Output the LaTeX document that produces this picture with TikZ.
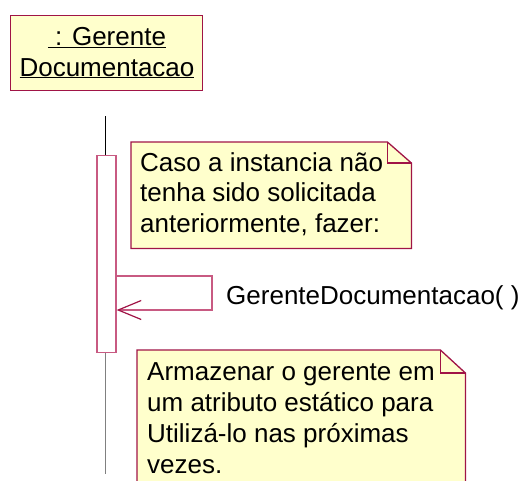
\documentclass[tikz,border=0pt]{standalone}
\usepackage{fontspec}
\setmainfont{Liberation Sans}
\usepackage{tikz}
\usetikzlibrary{arrows.meta, positioning}
\usepackage{color}
\definecolor{notefill}{RGB}{255,255,204}
\definecolor{umlred}{RGB}{160,20,70}
\definecolor{umlpink}{RGB}{200,90,130}

\tikzset{
	umltext/.style={font=\fontsize{26}{30.5}\selectfont, inner sep=0pt},
	objbox/.style={draw=umlred, fill=notefill, line width=1.3pt, inner sep=0pt, anchor=north west},
	noteframe/.style={fill=notefill, draw=umlred, line width=1.3pt},
	actbox/.style={draw=umlpink, fill=white, line width=1.3pt, minimum width=19pt, minimum height=197pt, inner sep=0pt, anchor=north},
	lifeline/.style={line width=1pt},
	selfmsg/.style={draw=umlpink, line width=1.2pt, -{Straight Barb[length=23pt, width=19pt, color=umlred]}},
}

\begin{document}
\begin{tikzpicture}[x=1pt, y=-1pt]
	\clip (0,0) rectangle (527,480);
	\node[objbox, minimum width=192pt, minimum height=75pt] (obj) at (10,15) {};
	\node[umltext, align=center, anchor=base] (objname) at (107,76) {\underline{~: Gerente}\\\underline{Documentacao}};

	\coordinate (lltop) at (105,116);
	\coordinate (llbot) at (105,474);
	\node[actbox] (act) at (106.5,155) {};
	\draw[lifeline] (lltop) -- (lltop |- act.north);
	\draw[lifeline, gray] (llbot |- act.south) -- (llbot);

	\node[inner sep=0pt, anchor=north west, minimum width=280pt, minimum height=106pt] (note1) at (131,142) {};
	\node[inner sep=0pt, anchor=north west, minimum width=328pt, minimum height=150pt] (note2) at (137,350) {};
	\foreach \n/\fx/\fy in {note1/24/21, note2/25/23}{
		\filldraw[noteframe] (\n.north west) -- ([xshift=-\fx pt]\n.north east) -- ([yshift=-\fy pt]\n.north east)
			-- (\n.south east) -- (\n.south west) -- cycle;
		\draw[noteframe, fill=none] ([xshift=-\fx pt]\n.north east) |- ([yshift=-\fy pt]\n.north east);
	}
	\node[umltext, align=left, anchor=base west] (text1) at (140,232)
		{Caso a instancia não\\tenha sido solicitada\\anteriormente, fazer:};
	\node[umltext, align=left, anchor=base west, font=\fontsize{26}{31}\selectfont] (text2) at (147,473)
		{Armazenar o gerente em\\um atributo estático para\\Utilizá-lo nas próximas\\vezes.};

	\coordinate (loopR) at (212,293);
	\draw[selfmsg] (act.east |- 0,276) -| (loopR) |- (act.east |- 0,310);
	\node[umltext, anchor=base west] (msglabel) at (226,304.5) {GerenteDocumentacao( )};
\end{tikzpicture}
\end{document}
